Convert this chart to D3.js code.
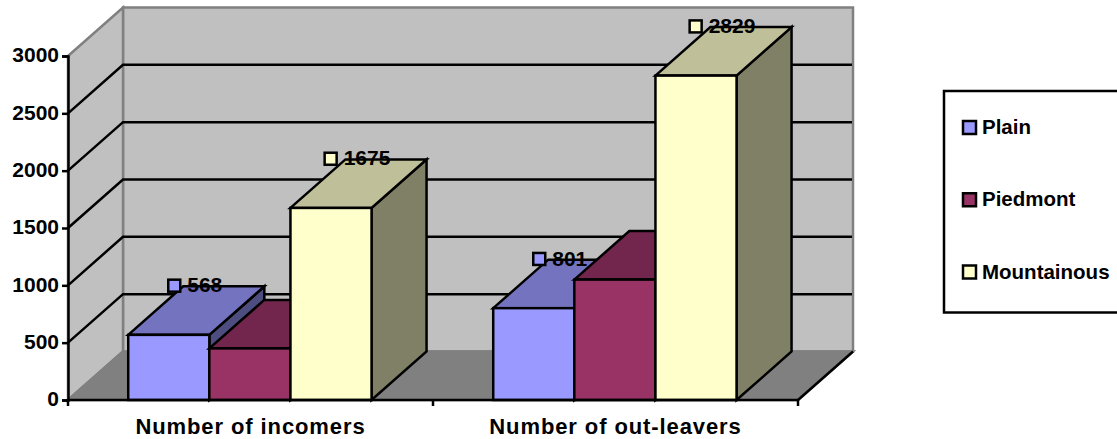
<!DOCTYPE html>
<html>
<head>
<meta charset="utf-8">
<script src="https://cdn.jsdelivr.net/npm/d3@7/dist/d3.min.js"></script>
<style>
html,body{margin:0;padding:0;background:#fff}
svg{display:block}
text{font-family:"Liberation Sans",Arial,sans-serif;font-weight:bold;fill:#000}
</style>
</head>
<body>
<svg id="chart" width="1117" height="439"></svg>
<script>
const categories = ["Number of incomers", "Number of out-leavers"];
const seriesNames = ["Plain", "Piedmont", "Mountainous"];
const plainValues = [568, 801];
const piedmontValues = [450, 1050];
const mountainousValues = [1675, 2829];
const seriesValues = [plainValues, piedmontValues, mountainousValues];
const seriesColors = ["#9999FF", "#993366", "#FFFFCC"];
const yTicks = [0, 500, 1000, 1500, 2000, 2500, 3000];
const labelledSeries = [0, 2]; // the Piedmont labels sit hidden behind the tallest column

const svg = d3.select("#chart");
const tickFont = 21, categoryFont = 22, legendFont = 20.5;

// Plot box and the oblique offset of the 3D depth axis
const plotLeft = 68, plotRight = 798, plotBottom = 400, plotTop = 56;
const depthX = 55, depthY = -48.5;
const edge = 2.5;

const x0 = d3.scaleBand().domain(categories).range([plotLeft, plotRight]);
const x1 = d3.scaleBand().domain(d3.range(seriesNames.length))
  .range([0, x0.bandwidth()]).paddingOuter(0.75).paddingInner(0).align(0.495);
const y = d3.scaleLinear().domain([0, 3000]).range([plotBottom, plotTop]);

const poly = pts => pts.map(p => p.join(",")).join(" ");
const shade = (c, k) => { const o = d3.rgb(c); return d3.rgb(o.r * k, o.g * k, o.b * k).formatHex(); };

// Back wall, side wall and floor
svg.append("polygon")
  .attr("points", poly([[plotLeft + depthX, plotTop + depthY], [plotRight + depthX, plotTop + depthY], [plotRight + depthX, plotBottom + depthY], [plotLeft + depthX, plotBottom + depthY]]))
  .attr("fill", "#C0C0C0").attr("stroke", "#808080").attr("stroke-width", edge);
svg.append("polygon")
  .attr("points", poly([[plotLeft, plotTop], [plotLeft + depthX, plotTop + depthY], [plotLeft + depthX, plotBottom + depthY], [plotLeft, plotBottom]]))
  .attr("fill", "#C0C0C0").attr("stroke", "#808080").attr("stroke-width", edge);
svg.append("polygon")
  .attr("points", poly([[plotLeft, plotBottom], [plotLeft + depthX, plotBottom + depthY], [plotRight + depthX, plotBottom + depthY], [plotRight, plotBottom]]))
  .attr("fill", "#808080").attr("stroke", "#808080").attr("stroke-width", edge);

// Gridlines run along the side wall and across the back wall
svg.append("g").selectAll("polyline").data(yTicks.filter(t => t > 0 && t < 3000)).join("polyline")
  .attr("points", d => poly([[plotLeft, y(d)], [plotLeft + depthX, y(d) + depthY], [plotRight + depthX - 1, y(d) + depthY]]))
  .attr("fill", "none").attr("stroke", "#000").attr("stroke-width", edge);

// Front-right floor edge
svg.append("line")
  .attr("x1", plotRight).attr("y1", plotBottom).attr("x2", plotRight + depthX).attr("y2", plotBottom + depthY)
  .attr("stroke", "#000").attr("stroke-width", edge);

// Columns, left to right within each category
const bars = [];
categories.forEach((c, ci) => seriesNames.forEach((s, si) => {
  bars.push({ ci, si, c, value: seriesValues[si][ci], color: seriesColors[si] });
}));
const barGroup = svg.append("g");
bars.forEach(b => {
  const xa = x0(b.c) + x1(b.si), xb = xa + x1.bandwidth();
  const yt = y(b.value), yb = y(0);
  const g = barGroup.append("g").attr("stroke", "#000").attr("stroke-width", edge).attr("stroke-linejoin", "miter");
  g.append("polygon").attr("fill", shade(b.color, 0.5))
    .attr("points", poly([[xb, yt], [xb + depthX, yt + depthY], [xb + depthX, yb + depthY], [xb, yb]]));
  g.append("polygon").attr("fill", shade(b.color, 0.75))
    .attr("points", poly([[xa, yt], [xa + depthX, yt + depthY], [xb + depthX, yt + depthY], [xb, yt]]));
  g.append("rect").attr("fill", b.color)
    .attr("x", xa).attr("y", yt).attr("width", xb - xa).attr("height", yb - yt);
});

// Value labels with their legend keys, anchored on the back edge of each column top
const markerSize = 12, markerGap = 7;
bars.filter(b => labelledSeries.includes(b.si)).forEach(b => {
  const cx = x0(b.c) + x1(b.si) + x1.bandwidth() / 2 + depthX / 2;
  const cy = y(b.value) + depthY - 0.7;
  const g = svg.append("g");
  const t = g.append("text").text(b.value).attr("font-size", tickFont).attr("dominant-baseline", "central");
  const w = t.node().getComputedTextLength();
  const startX = cx - (markerSize + markerGap + w) / 2 - 1;
  g.insert("rect", "text").attr("x", startX).attr("y", cy - markerSize / 2)
    .attr("width", markerSize).attr("height", markerSize)
    .attr("fill", b.color).attr("stroke", "#000").attr("stroke-width", edge);
  t.attr("x", startX + markerSize + markerGap).attr("y", cy - 0.8);
});

// Axes
const axisY = svg.append("g").attr("transform", `translate(${plotLeft},0)`)
  .call(d3.axisLeft(y).tickValues(yTicks).tickFormat(d3.format("d")).tickSize(6).tickPadding(3));
const axisX = svg.append("g").attr("transform", `translate(0,${plotBottom})`)
  .call(d3.axisBottom(x0).tickSize(0).tickPadding(18));
[axisY, axisX].forEach(a => {
  a.selectAll("path,line").attr("stroke", "#000").attr("stroke-width", edge);
  a.selectAll("text").attr("font-family", null);
});
axisY.selectAll("text").attr("font-size", tickFont).attr("y", -1);
axisX.selectAll("text").attr("font-size", categoryFont).attr("letter-spacing", 0.9);
axisX.select("path.domain").attr("d", `M${plotLeft},0H${plotRight}`);
svg.append("g").attr("transform", `translate(0,${plotBottom})`)
  .selectAll("line").data(d3.range(categories.length + 1)).join("line")
  .attr("x1", i => plotLeft + i * x0.step()).attr("x2", i => plotLeft + i * x0.step())
  .attr("y1", 0).attr("y2", 6).attr("stroke", "#000").attr("stroke-width", edge);

// Legend
svg.append("rect").attr("x", 944).attr("y", 91).attr("width", 175).attr("height", 221.5)
  .attr("fill", "#fff").attr("stroke", "#000").attr("stroke-width", edge);
const legendY = d3.scalePoint().domain(seriesNames).range([127.5, 272]);
const legend = svg.append("g").selectAll("g").data(seriesNames).join("g")
  .attr("transform", d => `translate(0,${legendY(d)})`);
legend.append("rect").attr("x", 963).attr("y", -6.5).attr("width", 13).attr("height", 13)
  .attr("fill", (d, i) => seriesColors[i]).attr("stroke", "#000").attr("stroke-width", edge);
legend.append("text").attr("x", 982).attr("y", -1).attr("dominant-baseline", "central")
  .attr("font-size", legendFont).text(d => d);
</script>
</body>
</html>
